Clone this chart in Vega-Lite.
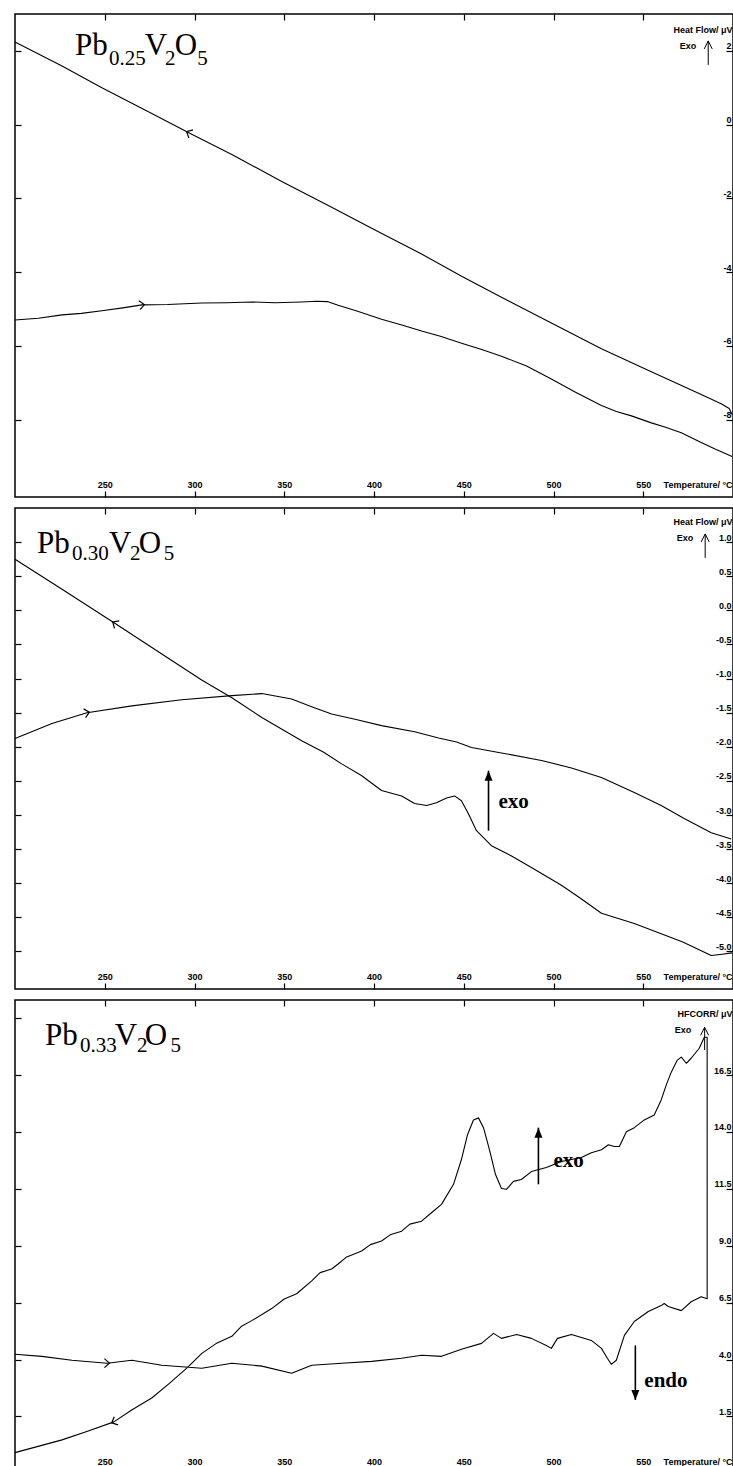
{
"$schema": "https://vega.github.io/schema/vega-lite/v6.json",
"background": "white",
"padding": {"left": 13, "top": 12, "right": 1, "bottom": 1},
"autosize": {"type": "pad"},
"spacing": 7,
"config": {
 "view": {"stroke": "#000", "strokeWidth": 1.5},
 "axis": {"domain": false, "grid": false, "tickColor": "#000", "tickWidth": 1.2, "labelColor": "#000", "labelFont": "Liberation Sans", "labelFontWeight": "bold", "labelFontSize": 9, "titleFont": "Liberation Sans", "titleFontWeight": "bold", "titleFontSize": 9, "titleColor": "#000", "labelFlush": false, "labelOverlap": false}
},
"datasets": {
 "p1": [
  {"k":"c","s":"c","i":0,"T":200.0,"v":2.24},{"k":"c","s":"c","i":1,"T":226.2,"v":1.59},{"k":"c","s":"c","i":2,"T":248.4,"v":1.00},{"k":"c","s":"c","i":3,"T":276.2,"v":0.30},{"k":"c","s":"c","i":4,"T":296.8,"v":-0.22},{"k":"c","s":"c","i":5,"T":320.8,"v":-0.81},{"k":"c","s":"c","i":6,"T":348.6,"v":-1.54},{"k":"c","s":"c","i":7,"T":376.4,"v":-2.24},{"k":"c","s":"c","i":8,"T":398.7,"v":-2.81},{"k":"c","s":"c","i":9,"T":426.5,"v":-3.51},{"k":"c","s":"c","i":10,"T":448.8,"v":-4.11},{"k":"c","s":"c","i":11,"T":471.0,"v":-4.68},{"k":"c","s":"c","i":12,"T":498.8,"v":-5.38},{"k":"c","s":"c","i":13,"T":526.7,"v":-6.08},{"k":"c","s":"c","i":14,"T":554.5,"v":-6.70},{"k":"c","s":"c","i":15,"T":582.3,"v":-7.32},{"k":"c","s":"c","i":16,"T":593.4,"v":-7.57},{"k":"c","s":"c","i":17,"T":597.9,"v":-7.70},{"k":"c","s":"c","i":18,"T":599.5,"v":-7.86},
  {"k":"c","s":"h","i":0,"T":200.0,"v":-5.30},{"k":"c","s":"h","i":1,"T":213.0,"v":-5.25},{"k":"c","s":"h","i":2,"T":226.2,"v":-5.16},{"k":"c","s":"h","i":3,"T":237.0,"v":-5.12},{"k":"c","s":"h","i":4,"T":248.4,"v":-5.05},{"k":"c","s":"h","i":5,"T":260.0,"v":-4.97},{"k":"c","s":"h","i":6,"T":270.7,"v":-4.89},{"k":"c","s":"h","i":7,"T":285.0,"v":-4.88},{"k":"c","s":"h","i":8,"T":304.1,"v":-4.84},{"k":"c","s":"h","i":9,"T":318.0,"v":-4.83},{"k":"c","s":"h","i":10,"T":331.9,"v":-4.81},{"k":"c","s":"h","i":11,"T":345.0,"v":-4.83},{"k":"c","s":"h","i":12,"T":359.7,"v":-4.81},{"k":"c","s":"h","i":13,"T":368.0,"v":-4.79},{"k":"c","s":"h","i":14,"T":374.0,"v":-4.80},{"k":"c","s":"h","i":15,"T":380.0,"v":-4.90},{"k":"c","s":"h","i":16,"T":390.0,"v":-5.05},{"k":"c","s":"h","i":17,"T":404.2,"v":-5.28},{"k":"c","s":"h","i":18,"T":415.0,"v":-5.43},{"k":"c","s":"h","i":19,"T":426.5,"v":-5.60},{"k":"c","s":"h","i":20,"T":437.0,"v":-5.74},{"k":"c","s":"h","i":21,"T":448.8,"v":-5.93},{"k":"c","s":"h","i":22,"T":460.0,"v":-6.10},{"k":"c","s":"h","i":23,"T":471.0,"v":-6.28},{"k":"c","s":"h","i":24,"T":485.0,"v":-6.55},{"k":"c","s":"h","i":25,"T":498.8,"v":-6.90},{"k":"c","s":"h","i":26,"T":512.0,"v":-7.25},{"k":"c","s":"h","i":27,"T":526.7,"v":-7.62},{"k":"c","s":"h","i":28,"T":535.0,"v":-7.78},{"k":"c","s":"h","i":29,"T":543.4,"v":-7.90},{"k":"c","s":"h","i":30,"T":554.5,"v":-8.09},{"k":"c","s":"h","i":31,"T":562.0,"v":-8.20},{"k":"c","s":"h","i":32,"T":571.2,"v":-8.36},{"k":"c","s":"h","i":33,"T":582.3,"v":-8.62},{"k":"c","s":"h","i":34,"T":590.0,"v":-8.80},{"k":"c","s":"h","i":35,"T":599.5,"v":-9.00},
  {"k":"L","T":296.8,"v":-0.22},
  {"k":"R","T":270.7,"v":-4.89},
  {"k":"big","T":233.4,"v":1.89,"t":"Pb"},{"k":"big","T":272.3,"v":1.89,"t":"V"},{"k":"big","T":289.0,"v":1.89,"t":"O"},
  {"k":"sub","T":252.3,"v":1.62,"t":"0.25"},{"k":"sub","T":283.5,"v":1.62,"t":"2"},{"k":"sub","T":301.6,"v":1.62,"t":"5"},
  {"k":"exo","T":579.5,"v":2.135,"t":"Exo"},
  {"k":"ea","T":586.2,"v":1.62,"v2":2.27}
 ],
 "p2": [
  {"k":"c","s":"c","i":0,"T":200.0,"v":0.75},{"k":"c","s":"c","i":1,"T":226.2,"v":0.31},{"k":"c","s":"c","i":2,"T":255.6,"v":-0.19},{"k":"c","s":"c","i":3,"T":281.8,"v":-0.64},{"k":"c","s":"c","i":4,"T":304.0,"v":-1.02},{"k":"c","s":"c","i":5,"T":320.8,"v":-1.28},{"k":"c","s":"c","i":6,"T":337.5,"v":-1.57},{"k":"c","s":"c","i":7,"T":359.7,"v":-1.91},{"k":"c","s":"c","i":8,"T":372.0,"v":-2.08},{"k":"c","s":"c","i":9,"T":382.0,"v":-2.25},{"k":"c","s":"c","i":10,"T":393.0,"v":-2.42},{"k":"c","s":"c","i":11,"T":404.2,"v":-2.64},{"k":"c","s":"c","i":12,"T":415.4,"v":-2.72},{"k":"c","s":"c","i":13,"T":422.6,"v":-2.83},{"k":"c","s":"c","i":14,"T":429.3,"v":-2.86},{"k":"c","s":"c","i":15,"T":434.8,"v":-2.82},{"k":"c","s":"c","i":16,"T":440.4,"v":-2.75},{"k":"c","s":"c","i":17,"T":444.9,"v":-2.72},{"k":"c","s":"c","i":18,"T":448.7,"v":-2.79},{"k":"c","s":"c","i":19,"T":452.6,"v":-2.98},{"k":"c","s":"c","i":20,"T":457.1,"v":-3.23},{"k":"c","s":"c","i":21,"T":465.4,"v":-3.45},{"k":"c","s":"c","i":22,"T":476.6,"v":-3.60},{"k":"c","s":"c","i":23,"T":487.7,"v":-3.77},{"k":"c","s":"c","i":24,"T":504.4,"v":-4.03},{"k":"c","s":"c","i":25,"T":515.0,"v":-4.22},{"k":"c","s":"c","i":26,"T":526.7,"v":-4.44},{"k":"c","s":"c","i":27,"T":545.0,"v":-4.59},{"k":"c","s":"c","i":28,"T":560.0,"v":-4.74},{"k":"c","s":"c","i":29,"T":572.0,"v":-4.86},{"k":"c","s":"c","i":30,"T":582.3,"v":-4.99},{"k":"c","s":"c","i":31,"T":587.9,"v":-5.06},{"k":"c","s":"c","i":32,"T":594.0,"v":-5.04},{"k":"c","s":"c","i":33,"T":599.5,"v":-5.02},
  {"k":"c","s":"h","i":0,"T":200.0,"v":-1.88},{"k":"c","s":"h","i":1,"T":220.6,"v":-1.66},{"k":"c","s":"h","i":2,"T":240.1,"v":-1.50},{"k":"c","s":"h","i":3,"T":265.1,"v":-1.40},{"k":"c","s":"h","i":4,"T":292.9,"v":-1.31},{"k":"c","s":"h","i":5,"T":320.8,"v":-1.25},{"k":"c","s":"h","i":6,"T":337.5,"v":-1.22},{"k":"c","s":"h","i":7,"T":354.1,"v":-1.30},{"k":"c","s":"h","i":8,"T":366.0,"v":-1.42},{"k":"c","s":"h","i":9,"T":376.4,"v":-1.52},{"k":"c","s":"h","i":10,"T":390.0,"v":-1.60},{"k":"c","s":"h","i":11,"T":404.2,"v":-1.69},{"k":"c","s":"h","i":12,"T":422.6,"v":-1.78},{"k":"c","s":"h","i":13,"T":436.0,"v":-1.87},{"k":"c","s":"h","i":14,"T":446.0,"v":-1.93},{"k":"c","s":"h","i":15,"T":454.3,"v":-2.01},{"k":"c","s":"h","i":16,"T":471.0,"v":-2.09},{"k":"c","s":"h","i":17,"T":493.3,"v":-2.20},{"k":"c","s":"h","i":18,"T":510.0,"v":-2.31},{"k":"c","s":"h","i":19,"T":526.7,"v":-2.45},{"k":"c","s":"h","i":20,"T":545.0,"v":-2.67},{"k":"c","s":"h","i":21,"T":560.0,"v":-2.86},{"k":"c","s":"h","i":22,"T":572.8,"v":-3.05},{"k":"c","s":"h","i":23,"T":587.9,"v":-3.26},{"k":"c","s":"h","i":24,"T":599.0,"v":-3.35},
  {"k":"L","T":255.6,"v":-0.19},
  {"k":"R","T":240.1,"v":-1.50},
  {"k":"big","T":212.2,"v":0.84,"t":"Pb"},{"k":"big","T":252.3,"v":0.84,"t":"V"},{"k":"big","T":269.0,"v":0.84,"t":"O"},
  {"k":"sub","T":231.7,"v":0.74,"t":"0.30"},{"k":"sub","T":264.0,"v":0.74,"t":"2"},{"k":"sub","T":282.8,"v":0.74,"t":"5"},
  {"k":"exo","T":577.9,"v":1.06,"t":"Exo"},
  {"k":"ea","T":584.5,"v":0.77,"v2":1.12},
  {"k":"up","T":463.8,"v":-3.23,"v2":-2.35},
  {"k":"at","T":469.3,"v":-2.89,"t":"exo"}
 ],
 "p3": [
  {"k":"c","s":"a","i":0,"T":200.0,"v":4.23},{"k":"c","s":"a","i":1,"T":215.0,"v":4.14},{"k":"c","s":"a","i":2,"T":231.7,"v":3.97},{"k":"c","s":"a","i":3,"T":251.2,"v":3.84},{"k":"c","s":"a","i":4,"T":265.1,"v":3.97},{"k":"c","s":"a","i":5,"T":281.8,"v":3.75},{"k":"c","s":"a","i":6,"T":304.1,"v":3.62},{"k":"c","s":"a","i":7,"T":320.8,"v":3.84},{"k":"c","s":"a","i":8,"T":337.5,"v":3.71},{"k":"c","s":"a","i":9,"T":354.1,"v":3.40},{"k":"c","s":"a","i":10,"T":365.3,"v":3.75},{"k":"c","s":"a","i":11,"T":382.0,"v":3.84},{"k":"c","s":"a","i":12,"T":398.7,"v":3.92},{"k":"c","s":"a","i":13,"T":415.4,"v":4.06},{"k":"c","s":"a","i":14,"T":426.5,"v":4.19},{"k":"c","s":"a","i":15,"T":437.6,"v":4.14},{"k":"c","s":"a","i":16,"T":448.7,"v":4.45},{"k":"c","s":"a","i":17,"T":459.9,"v":4.71},{"k":"c","s":"a","i":18,"T":466.6,"v":5.15},{"k":"c","s":"a","i":19,"T":471.0,"v":4.93},{"k":"c","s":"a","i":20,"T":479.4,"v":5.10},{"k":"c","s":"a","i":21,"T":487.7,"v":4.93},{"k":"c","s":"a","i":22,"T":496.0,"v":4.62},{"k":"c","s":"a","i":23,"T":498.8,"v":4.49},{"k":"c","s":"a","i":24,"T":502.2,"v":4.93},{"k":"c","s":"a","i":25,"T":510.0,"v":5.10},{"k":"c","s":"a","i":26,"T":521.1,"v":4.84},{"k":"c","s":"a","i":27,"T":526.7,"v":4.49},{"k":"c","s":"a","i":28,"T":530.0,"v":4.06},{"k":"c","s":"a","i":29,"T":532.2,"v":3.79},{"k":"c","s":"a","i":30,"T":535.0,"v":3.97},{"k":"c","s":"a","i":31,"T":539.5,"v":5.06},{"k":"c","s":"a","i":32,"T":545.0,"v":5.67},{"k":"c","s":"a","i":33,"T":552.8,"v":6.11},{"k":"c","s":"a","i":34,"T":560.0,"v":6.37},{"k":"c","s":"a","i":35,"T":561.7,"v":6.46},{"k":"c","s":"a","i":36,"T":563.9,"v":6.33},{"k":"c","s":"a","i":37,"T":571.2,"v":6.15},{"k":"c","s":"a","i":38,"T":576.7,"v":6.54},{"k":"c","s":"a","i":39,"T":582.3,"v":6.76},{"k":"c","s":"a","i":40,"T":585.6,"v":6.67},
  {"k":"c","s":"a","i":41,"T":585.6,"v":18.16},{"k":"c","s":"a","i":42,"T":584.0,"v":18.16},{"k":"c","s":"a","i":43,"T":581.2,"v":17.68},{"k":"c","s":"a","i":44,"T":576.7,"v":17.24},{"k":"c","s":"a","i":45,"T":574.0,"v":17.02},{"k":"c","s":"a","i":46,"T":571.2,"v":17.29},{"k":"c","s":"a","i":47,"T":569.0,"v":17.16},{"k":"c","s":"a","i":48,"T":565.6,"v":16.63},{"k":"c","s":"a","i":49,"T":562.8,"v":16.06},{"k":"c","s":"a","i":50,"T":560.0,"v":15.41},{"k":"c","s":"a","i":51,"T":556.1,"v":14.75},{"k":"c","s":"a","i":52,"T":550.6,"v":14.53},{"k":"c","s":"a","i":53,"T":545.0,"v":14.19},{"k":"c","s":"a","i":54,"T":540.6,"v":14.01},{"k":"c","s":"a","i":55,"T":536.7,"v":13.36},{"k":"c","s":"a","i":56,"T":533.9,"v":13.36},{"k":"c","s":"a","i":57,"T":530.6,"v":13.44},{"k":"c","s":"a","i":58,"T":526.7,"v":13.22},{"k":"c","s":"a","i":59,"T":521.1,"v":13.09},{"k":"c","s":"a","i":60,"T":515.5,"v":12.88},{"k":"c","s":"a","i":61,"T":510.0,"v":12.79},{"k":"c","s":"a","i":62,"T":504.4,"v":12.70},{"k":"c","s":"a","i":63,"T":496.0,"v":12.44},{"k":"c","s":"a","i":64,"T":487.7,"v":12.26},{"k":"c","s":"a","i":65,"T":482.1,"v":11.91},{"k":"c","s":"a","i":66,"T":477.7,"v":11.83},{"k":"c","s":"a","i":67,"T":473.8,"v":11.48},{"k":"c","s":"a","i":68,"T":471.0,"v":11.52},{"k":"c","s":"a","i":69,"T":467.7,"v":12.13},{"k":"c","s":"a","i":70,"T":464.3,"v":13.22},{"k":"c","s":"a","i":71,"T":461.0,"v":14.19},{"k":"c","s":"a","i":72,"T":458.2,"v":14.62},{"k":"c","s":"a","i":73,"T":455.4,"v":14.53},{"k":"c","s":"a","i":74,"T":452.1,"v":13.88},{"k":"c","s":"a","i":75,"T":448.7,"v":12.79},{"k":"c","s":"a","i":76,"T":444.3,"v":11.70},{"k":"c","s":"a","i":77,"T":437.6,"v":10.82},{"k":"c","s":"a","i":78,"T":432.0,"v":10.45},{"k":"c","s":"a","i":79,"T":426.5,"v":10.08},{"k":"c","s":"a","i":80,"T":420.0,"v":9.95},{"k":"c","s":"a","i":81,"T":415.4,"v":9.64},{"k":"c","s":"a","i":82,"T":409.0,"v":9.48},{"k":"c","s":"a","i":83,"T":404.2,"v":9.21},{"k":"c","s":"a","i":84,"T":398.0,"v":9.05},{"k":"c","s":"a","i":85,"T":393.1,"v":8.77},{"k":"c","s":"a","i":86,"T":384.8,"v":8.51},{"k":"c","s":"a","i":87,"T":380.0,"v":8.20},{"k":"c","s":"a","i":88,"T":376.4,"v":7.98},{"k":"c","s":"a","i":89,"T":370.0,"v":7.82},{"k":"c","s":"a","i":90,"T":365.3,"v":7.46},{"k":"c","s":"a","i":91,"T":356.9,"v":6.89},{"k":"c","s":"a","i":92,"T":350.0,"v":6.66},{"k":"c","s":"a","i":93,"T":343.0,"v":6.24},{"k":"c","s":"a","i":94,"T":331.9,"v":5.71},{"k":"c","s":"a","i":95,"T":326.0,"v":5.45},{"k":"c","s":"a","i":96,"T":320.8,"v":5.02},{"k":"c","s":"a","i":97,"T":312.0,"v":4.70},{"k":"c","s":"a","i":98,"T":304.1,"v":4.27},{"k":"c","s":"a","i":99,"T":295.7,"v":3.62},{"k":"c","s":"a","i":100,"T":286.0,"v":2.95},{"k":"c","s":"a","i":101,"T":276.2,"v":2.31},{"k":"c","s":"a","i":102,"T":265.0,"v":1.78},{"k":"c","s":"a","i":103,"T":255.1,"v":1.26},{"k":"c","s":"a","i":104,"T":240.0,"v":0.84},{"k":"c","s":"a","i":105,"T":226.2,"v":0.47},{"k":"c","s":"a","i":106,"T":200.0,"v":-0.09},
  {"k":"L","T":255.1,"v":1.26},
  {"k":"R","T":251.2,"v":3.84},
  {"k":"big","T":216.7,"v":17.81,"t":"Pb"},{"k":"big","T":255.6,"v":17.81,"t":"V"},{"k":"big","T":272.3,"v":17.81,"t":"O"},
  {"k":"sub","T":236.2,"v":17.5,"t":"0.33"},{"k":"sub","T":267.9,"v":17.5,"t":"2"},{"k":"sub","T":286.6,"v":17.5,"t":"5"},
  {"k":"exo","T":576.7,"v":18.47,"t":"Exo"},
  {"k":"ea","T":584.2,"v":17.6,"v2":18.6},
  {"k":"up","T":491.6,"v":11.70,"v2":14.19},
  {"k":"dn","T":545.6,"v":4.62,"v2":2.22},
  {"k":"at","T":500.0,"v":12.48,"t":"exo"},
  {"k":"at","T":550.6,"v":2.79,"t":"endo"}
 ]
},
"vconcat": [
 {
  "width": 718, "height": 483,
  "data": {"name": "p1"},
  "resolve": {"axis": {"x": "independent", "y": "independent"}},
  "layer": [
   {"transform": [{"filter": "datum.k === 'c'"}],
    "mark": {"type": "line", "color": "#000", "strokeWidth": 1.1, "strokeJoin": "round"},
    "encoding": {
     "x": {"field": "T", "type": "quantitative", "scale": {"domain": [200, 600], "nice": false, "zero": false},
           "axis": {"orient": "bottom", "offset": -6, "values": [250,300,350,400,450,500,550], "tickSize": 6, "labelPadding": -8, "labelBaseline": "bottom", "title": "Temperature/ °C", "titleAngle": 0, "titleAlign": "right", "titleBaseline": "bottom", "titleX": 717, "titleY": -2}},
     "y": {"field": "v", "type": "quantitative", "scale": {"domain": [-10.1, 3.0], "nice": false, "zero": false},
           "axis": {"orient": "right", "offset": -7, "values": [-8,-6,-4,-2,0,2], "format": "d", "labelExpr": "replace(datum.label, '\u2212', '-')", "tickSize": 7, "labelPadding": -2, "labelAlign": "right", "labelBaseline": "bottom", "title": "Heat Flow/ μV", "titleAngle": 0, "titleAlign": "right", "titleBaseline": "middle", "titleX": 6, "titleY": 15}},
     "detail": {"field": "s", "type": "nominal"},
     "order": {"field": "i", "type": "quantitative"}
    }},
   {"transform": [{"filter": "datum.k === 'L'"}],
    "mark": {"type": "point", "shape": "M0.55,-1L-0.55,0L0.55,1", "size": 81, "filled": false, "stroke": "#000", "strokeWidth": 1.2, "opacity": 1, "angle": 28},
    "encoding": {
     "x": {"field": "T", "type": "quantitative", "scale": {"domain": [200, 600], "nice": false, "zero": false},
           "axis": {"orient": "top", "offset": -6, "values": [250,300,350,400,450,500,550], "tickSize": 6, "labels": false, "title": null}},
     "y": {"field": "v", "type": "quantitative", "scale": {"domain": [-10.1, 3.0], "nice": false, "zero": false},
           "axis": {"orient": "left", "offset": -6, "values": [-8,-6,-4,-2,0,2], "tickSize": 6, "labels": false, "title": null}}
    }},
   {"transform": [{"filter": "datum.k === 'R'"}],
    "mark": {"type": "point", "shape": "M-0.55,-1L0.55,0L-0.55,1", "size": 81, "filled": false, "stroke": "#000", "strokeWidth": 1.2, "opacity": 1, "angle": -8},
    "encoding": {
     "x": {"field": "T", "type": "quantitative", "scale": {"domain": [200, 600], "nice": false, "zero": false}, "axis": null},
     "y": {"field": "v", "type": "quantitative", "scale": {"domain": [-10.1, 3.0], "nice": false, "zero": false}, "axis": null}
    }},
   {"transform": [{"filter": "datum.k === 'big'"}],
    "mark": {"type": "text", "font": "Liberation Serif", "fontSize": 31, "align": "left", "baseline": "alphabetic", "color": "#000"},
    "encoding": {
     "x": {"field": "T", "type": "quantitative", "scale": {"domain": [200, 600], "nice": false, "zero": false}, "axis": null},
     "y": {"field": "v", "type": "quantitative", "scale": {"domain": [-10.1, 3.0], "nice": false, "zero": false}, "axis": null},
     "text": {"field": "t"}
    }},
   {"transform": [{"filter": "datum.k === 'sub'"}],
    "mark": {"type": "text", "font": "Liberation Serif", "fontSize": 21, "align": "left", "baseline": "alphabetic", "color": "#000"},
    "encoding": {
     "x": {"field": "T", "type": "quantitative", "scale": {"domain": [200, 600], "nice": false, "zero": false}, "axis": null},
     "y": {"field": "v", "type": "quantitative", "scale": {"domain": [-10.1, 3.0], "nice": false, "zero": false}, "axis": null},
     "text": {"field": "t"}
    }},
   {"transform": [{"filter": "datum.k === 'exo'"}],
    "mark": {"type": "text", "font": "Liberation Sans", "fontWeight": "bold", "fontSize": 9, "align": "right", "baseline": "middle", "color": "#000"},
    "encoding": {
     "x": {"field": "T", "type": "quantitative", "scale": {"domain": [200, 600], "nice": false, "zero": false}, "axis": null},
     "y": {"field": "v", "type": "quantitative", "scale": {"domain": [-10.1, 3.0], "nice": false, "zero": false}, "axis": null},
     "text": {"field": "t"}
    }},
   {"transform": [{"filter": "datum.k === 'ea'"}],
    "mark": {"type": "rule", "color": "#000", "strokeWidth": 1},
    "encoding": {
     "x": {"field": "T", "type": "quantitative", "scale": {"domain": [200, 600], "nice": false, "zero": false}, "axis": null},
     "y": {"field": "v", "type": "quantitative", "scale": {"domain": [-10.1, 3.0], "nice": false, "zero": false}, "axis": null},
     "y2": {"field": "v2"}
    }},
   {"transform": [{"filter": "datum.k === 'ea'"}],
    "mark": {"type": "point", "shape": "M-0.5,1L0,0L0.5,1", "size": 256, "filled": false, "stroke": "#000", "strokeWidth": 1, "opacity": 1},
    "encoding": {
     "x": {"field": "T", "type": "quantitative", "scale": {"domain": [200, 600], "nice": false, "zero": false}, "axis": null},
     "y": {"field": "v2", "type": "quantitative", "scale": {"domain": [-10.1, 3.0], "nice": false, "zero": false}, "axis": null}
    }}
  ]
 },
 {
  "width": 718, "height": 481,
  "data": {"name": "p2"},
  "resolve": {"axis": {"x": "independent", "y": "independent"}},
  "layer": [
   {"transform": [{"filter": "datum.k === 'c'"}],
    "mark": {"type": "line", "color": "#000", "strokeWidth": 1.1, "strokeJoin": "round"},
    "encoding": {
     "x": {"field": "T", "type": "quantitative", "scale": {"domain": [200, 600], "nice": false, "zero": false},
           "axis": {"orient": "bottom", "offset": -6, "values": [250,300,350,400,450,500,550], "tickSize": 6, "labelPadding": -8, "labelBaseline": "bottom", "title": "Temperature/ °C", "titleAngle": 0, "titleAlign": "right", "titleBaseline": "bottom", "titleX": 717, "titleY": -2}},
     "y": {"field": "v", "type": "quantitative", "scale": {"domain": [-5.55, 1.5], "nice": false, "zero": false},
           "axis": {"orient": "right", "offset": -7, "values": [-5,-4.5,-4,-3.5,-3,-2.5,-2,-1.5,-1,-0.5,0,0.5,1], "format": ".1f", "labelExpr": "replace(datum.label, '\u2212', '-')", "tickSize": 7, "labelPadding": -2, "labelAlign": "right", "labelBaseline": "bottom", "title": "Heat Flow/ μV", "titleAngle": 0, "titleAlign": "right", "titleBaseline": "middle", "titleX": 6, "titleY": 13}},
     "detail": {"field": "s", "type": "nominal"},
     "order": {"field": "i", "type": "quantitative"}
    }},
   {"transform": [{"filter": "datum.k === 'L'"}],
    "mark": {"type": "point", "shape": "M0.55,-1L-0.55,0L0.55,1", "size": 81, "filled": false, "stroke": "#000", "strokeWidth": 1.2, "opacity": 1, "angle": 32},
    "encoding": {
     "x": {"field": "T", "type": "quantitative", "scale": {"domain": [200, 600], "nice": false, "zero": false},
           "axis": {"orient": "top", "offset": -6, "values": [250,300,350,400,450,500,550], "tickSize": 6, "labels": false, "title": null}},
     "y": {"field": "v", "type": "quantitative", "scale": {"domain": [-5.55, 1.5], "nice": false, "zero": false},
           "axis": {"orient": "left", "offset": -6, "values": [-5,-4.5,-4,-3.5,-3,-2.5,-2,-1.5,-1,-0.5,0,0.5,1], "tickSize": 6, "labels": false, "title": null}}
    }},
   {"transform": [{"filter": "datum.k === 'R'"}],
    "mark": {"type": "point", "shape": "M-0.55,-1L0.55,0L-0.55,1", "size": 81, "filled": false, "stroke": "#000", "strokeWidth": 1.2, "opacity": 1, "angle": -13},
    "encoding": {
     "x": {"field": "T", "type": "quantitative", "scale": {"domain": [200, 600], "nice": false, "zero": false}, "axis": null},
     "y": {"field": "v", "type": "quantitative", "scale": {"domain": [-5.55, 1.5], "nice": false, "zero": false}, "axis": null}
    }},
   {"transform": [{"filter": "datum.k === 'big'"}],
    "mark": {"type": "text", "font": "Liberation Serif", "fontSize": 31, "align": "left", "baseline": "alphabetic", "color": "#000"},
    "encoding": {
     "x": {"field": "T", "type": "quantitative", "scale": {"domain": [200, 600], "nice": false, "zero": false}, "axis": null},
     "y": {"field": "v", "type": "quantitative", "scale": {"domain": [-5.55, 1.5], "nice": false, "zero": false}, "axis": null},
     "text": {"field": "t"}
    }},
   {"transform": [{"filter": "datum.k === 'sub'"}],
    "mark": {"type": "text", "font": "Liberation Serif", "fontSize": 21, "align": "left", "baseline": "alphabetic", "color": "#000"},
    "encoding": {
     "x": {"field": "T", "type": "quantitative", "scale": {"domain": [200, 600], "nice": false, "zero": false}, "axis": null},
     "y": {"field": "v", "type": "quantitative", "scale": {"domain": [-5.55, 1.5], "nice": false, "zero": false}, "axis": null},
     "text": {"field": "t"}
    }},
   {"transform": [{"filter": "datum.k === 'exo'"}],
    "mark": {"type": "text", "font": "Liberation Sans", "fontWeight": "bold", "fontSize": 9, "align": "right", "baseline": "middle", "color": "#000"},
    "encoding": {
     "x": {"field": "T", "type": "quantitative", "scale": {"domain": [200, 600], "nice": false, "zero": false}, "axis": null},
     "y": {"field": "v", "type": "quantitative", "scale": {"domain": [-5.55, 1.5], "nice": false, "zero": false}, "axis": null},
     "text": {"field": "t"}
    }},
   {"transform": [{"filter": "datum.k === 'ea'"}],
    "mark": {"type": "rule", "color": "#000", "strokeWidth": 1},
    "encoding": {
     "x": {"field": "T", "type": "quantitative", "scale": {"domain": [200, 600], "nice": false, "zero": false}, "axis": null},
     "y": {"field": "v", "type": "quantitative", "scale": {"domain": [-5.55, 1.5], "nice": false, "zero": false}, "axis": null},
     "y2": {"field": "v2"}
    }},
   {"transform": [{"filter": "datum.k === 'ea'"}],
    "mark": {"type": "point", "shape": "M-0.5,1L0,0L0.5,1", "size": 256, "filled": false, "stroke": "#000", "strokeWidth": 1, "opacity": 1},
    "encoding": {
     "x": {"field": "T", "type": "quantitative", "scale": {"domain": [200, 600], "nice": false, "zero": false}, "axis": null},
     "y": {"field": "v2", "type": "quantitative", "scale": {"domain": [-5.55, 1.5], "nice": false, "zero": false}, "axis": null}
    }},
   {"transform": [{"filter": "datum.k === 'up'"}],
    "mark": {"type": "rule", "color": "#000", "strokeWidth": 1.6},
    "encoding": {
     "x": {"field": "T", "type": "quantitative", "scale": {"domain": [200, 600], "nice": false, "zero": false}, "axis": null},
     "y": {"field": "v", "type": "quantitative", "scale": {"domain": [-5.55, 1.5], "nice": false, "zero": false}, "axis": null},
     "y2": {"field": "v2"}
    }},
   {"transform": [{"filter": "datum.k === 'up'"}],
    "mark": {"type": "point", "shape": "M0,0L0.4,1L-0.4,1Z", "size": 400, "filled": true, "color": "#000", "opacity": 1},
    "encoding": {
     "x": {"field": "T", "type": "quantitative", "scale": {"domain": [200, 600], "nice": false, "zero": false}, "axis": null},
     "y": {"field": "v2", "type": "quantitative", "scale": {"domain": [-5.55, 1.5], "nice": false, "zero": false}, "axis": null}
    }},
   {"transform": [{"filter": "datum.k === 'at'"}],
    "mark": {"type": "text", "font": "Liberation Serif", "fontWeight": "bold", "fontSize": 21, "align": "left", "baseline": "alphabetic", "color": "#000"},
    "encoding": {
     "x": {"field": "T", "type": "quantitative", "scale": {"domain": [200, 600], "nice": false, "zero": false}, "axis": null},
     "y": {"field": "v", "type": "quantitative", "scale": {"domain": [-5.55, 1.5], "nice": false, "zero": false}, "axis": null},
     "text": {"field": "t"}
    }}
  ]
 },
 {
  "width": 718, "height": 474,
  "data": {"name": "p3"},
  "resolve": {"axis": {"x": "independent", "y": "independent"}},
  "layer": [
   {"transform": [{"filter": "datum.k === 'c'"}],
    "mark": {"type": "line", "color": "#000", "strokeWidth": 1.1, "strokeJoin": "round"},
    "encoding": {
     "x": {"field": "T", "type": "quantitative", "scale": {"domain": [200, 600], "nice": false, "zero": false},
           "axis": {"orient": "bottom", "offset": -6, "values": [250,300,350,400,450,500,550], "tickSize": 6, "labelPadding": -8, "labelBaseline": "bottom", "title": "Temperature/ °C", "titleAngle": 0, "titleAlign": "right", "titleBaseline": "bottom", "titleX": 717, "titleY": -2}},
     "y": {"field": "v", "type": "quantitative", "scale": {"domain": [-1.03, 19.8], "nice": false, "zero": false},
           "axis": {"orient": "right", "offset": -7, "values": [1.5,4,6.5,9,11.5,14,16.5], "format": ".1f", "tickSize": 7, "labelPadding": -2, "labelAlign": "right", "labelBaseline": "bottom", "title": "HFCORR/ μV", "titleAngle": 0, "titleAlign": "right", "titleBaseline": "middle", "titleX": 6, "titleY": 13}},
     "detail": {"field": "s", "type": "nominal"},
     "order": {"field": "i", "type": "quantitative"}
    }},
   {"transform": [{"filter": "datum.k === 'L'"}],
    "mark": {"type": "point", "shape": "M0.55,-1L-0.55,0L0.55,1", "size": 81, "filled": false, "stroke": "#000", "strokeWidth": 1.2, "opacity": 1, "angle": -25},
    "encoding": {
     "x": {"field": "T", "type": "quantitative", "scale": {"domain": [200, 600], "nice": false, "zero": false},
           "axis": {"orient": "top", "offset": -6, "values": [250,300,350,400,450,500,550], "tickSize": 6, "labels": false, "title": null}},
     "y": {"field": "v", "type": "quantitative", "scale": {"domain": [-1.03, 19.8], "nice": false, "zero": false},
           "axis": {"orient": "left", "offset": -6, "values": [1.5,4,6.5,9,11.5,14,16.5,19], "tickSize": 6, "labels": false, "title": null}}
    }},
   {"transform": [{"filter": "datum.k === 'R'"}],
    "mark": {"type": "point", "shape": "M-0.55,-1L0.55,0L-0.55,1", "size": 81, "filled": false, "stroke": "#000", "strokeWidth": 1.2, "opacity": 1, "angle": 0},
    "encoding": {
     "x": {"field": "T", "type": "quantitative", "scale": {"domain": [200, 600], "nice": false, "zero": false}, "axis": null},
     "y": {"field": "v", "type": "quantitative", "scale": {"domain": [-1.03, 19.8], "nice": false, "zero": false}, "axis": null}
    }},
   {"transform": [{"filter": "datum.k === 'big'"}],
    "mark": {"type": "text", "font": "Liberation Serif", "fontSize": 31, "align": "left", "baseline": "alphabetic", "color": "#000"},
    "encoding": {
     "x": {"field": "T", "type": "quantitative", "scale": {"domain": [200, 600], "nice": false, "zero": false}, "axis": null},
     "y": {"field": "v", "type": "quantitative", "scale": {"domain": [-1.03, 19.8], "nice": false, "zero": false}, "axis": null},
     "text": {"field": "t"}
    }},
   {"transform": [{"filter": "datum.k === 'sub'"}],
    "mark": {"type": "text", "font": "Liberation Serif", "fontSize": 21, "align": "left", "baseline": "alphabetic", "color": "#000"},
    "encoding": {
     "x": {"field": "T", "type": "quantitative", "scale": {"domain": [200, 600], "nice": false, "zero": false}, "axis": null},
     "y": {"field": "v", "type": "quantitative", "scale": {"domain": [-1.03, 19.8], "nice": false, "zero": false}, "axis": null},
     "text": {"field": "t"}
    }},
   {"transform": [{"filter": "datum.k === 'exo'"}],
    "mark": {"type": "text", "font": "Liberation Sans", "fontWeight": "bold", "fontSize": 9, "align": "right", "baseline": "middle", "color": "#000"},
    "encoding": {
     "x": {"field": "T", "type": "quantitative", "scale": {"domain": [200, 600], "nice": false, "zero": false}, "axis": null},
     "y": {"field": "v", "type": "quantitative", "scale": {"domain": [-1.03, 19.8], "nice": false, "zero": false}, "axis": null},
     "text": {"field": "t"}
    }},
   {"transform": [{"filter": "datum.k === 'ea'"}],
    "mark": {"type": "rule", "color": "#000", "strokeWidth": 1},
    "encoding": {
     "x": {"field": "T", "type": "quantitative", "scale": {"domain": [200, 600], "nice": false, "zero": false}, "axis": null},
     "y": {"field": "v", "type": "quantitative", "scale": {"domain": [-1.03, 19.8], "nice": false, "zero": false}, "axis": null},
     "y2": {"field": "v2"}
    }},
   {"transform": [{"filter": "datum.k === 'ea'"}],
    "mark": {"type": "point", "shape": "M-0.5,1L0,0L0.5,1", "size": 256, "filled": false, "stroke": "#000", "strokeWidth": 1, "opacity": 1},
    "encoding": {
     "x": {"field": "T", "type": "quantitative", "scale": {"domain": [200, 600], "nice": false, "zero": false}, "axis": null},
     "y": {"field": "v2", "type": "quantitative", "scale": {"domain": [-1.03, 19.8], "nice": false, "zero": false}, "axis": null}
    }},
   {"transform": [{"filter": "datum.k === 'up' || datum.k === 'dn'"}],
    "mark": {"type": "rule", "color": "#000", "strokeWidth": 1.6},
    "encoding": {
     "x": {"field": "T", "type": "quantitative", "scale": {"domain": [200, 600], "nice": false, "zero": false}, "axis": null},
     "y": {"field": "v", "type": "quantitative", "scale": {"domain": [-1.03, 19.8], "nice": false, "zero": false}, "axis": null},
     "y2": {"field": "v2"}
    }},
   {"transform": [{"filter": "datum.k === 'up'"}],
    "mark": {"type": "point", "shape": "M0,0L0.4,1L-0.4,1Z", "size": 400, "filled": true, "color": "#000", "opacity": 1},
    "encoding": {
     "x": {"field": "T", "type": "quantitative", "scale": {"domain": [200, 600], "nice": false, "zero": false}, "axis": null},
     "y": {"field": "v2", "type": "quantitative", "scale": {"domain": [-1.03, 19.8], "nice": false, "zero": false}, "axis": null}
    }},
   {"transform": [{"filter": "datum.k === 'dn'"}],
    "mark": {"type": "point", "shape": "M0,0L0.4,-1L-0.4,-1Z", "size": 400, "filled": true, "color": "#000", "opacity": 1},
    "encoding": {
     "x": {"field": "T", "type": "quantitative", "scale": {"domain": [200, 600], "nice": false, "zero": false}, "axis": null},
     "y": {"field": "v2", "type": "quantitative", "scale": {"domain": [-1.03, 19.8], "nice": false, "zero": false}, "axis": null}
    }},
   {"transform": [{"filter": "datum.k === 'at'"}],
    "mark": {"type": "text", "font": "Liberation Serif", "fontWeight": "bold", "fontSize": 21, "align": "left", "baseline": "alphabetic", "color": "#000"},
    "encoding": {
     "x": {"field": "T", "type": "quantitative", "scale": {"domain": [200, 600], "nice": false, "zero": false}, "axis": null},
     "y": {"field": "v", "type": "quantitative", "scale": {"domain": [-1.03, 19.8], "nice": false, "zero": false}, "axis": null},
     "text": {"field": "t"}
    }}
  ]
 }
]
}
